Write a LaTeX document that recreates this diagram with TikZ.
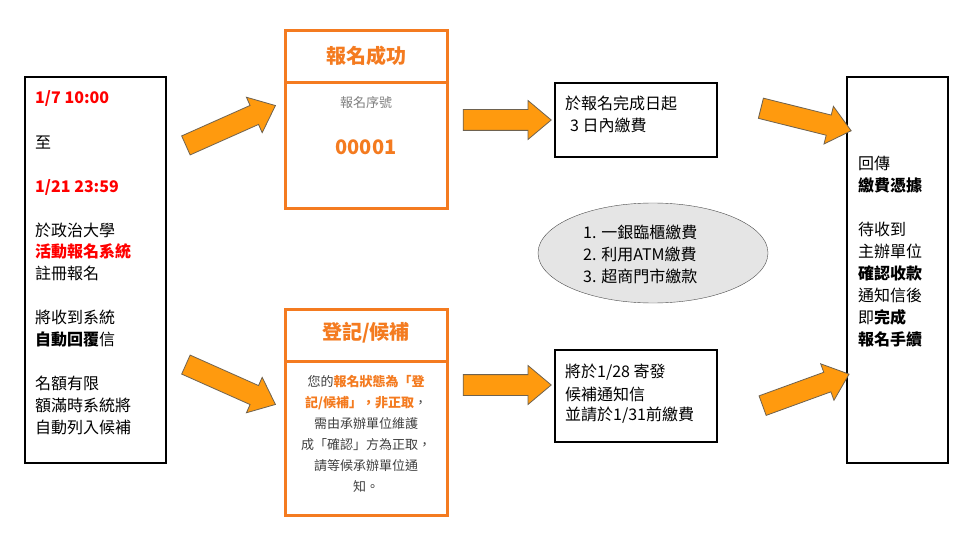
\documentclass[tikz,border=0pt]{standalone}
\usepackage{fontspec}
\setmainfont{Noto Sans CJK TC}
\usetikzlibrary{shapes.geometric,shapes.arrows}
\definecolor{orng}{HTML}{FF9A0E}
\definecolor{ordk}{HTML}{6E6250}
\definecolor{frame}{HTML}{F47B20}
\definecolor{redtx}{HTML}{FF0000}
\tikzset{
  blk/.style={draw=black,line width=1.5pt},
  obox/.style={draw=frame,line width=3pt},
  txt/.style={anchor=west,inner sep=0pt,font=\fontsize{16}{20}\selectfont},
  red/.style={text=redtx,font=\fontsize{16}{20}\selectfont\bfseries},
  fat/.style={single arrow,fill=orng,draw=ordk,line width=0.8pt,inner sep=10pt,
    single arrow head extend=9pt,single arrow tip angle=80}
}
\begin{document}
\begin{tikzpicture}[x=1pt,y=-1pt]
\fill[white] (0,0) rectangle (960,540);

% left box
\draw[blk] (25,77) rectangle (166,463);
\node[txt,red] (d1) at (35,98) {1/7 10:00};
\node[txt] (d2) at (35,143) {至};
\node[txt,red] (d3) at (35,187) {1/21 23:59};
\node[txt] (l1) at (35,230) {於政治大學};
\node[txt,red] (l2) at (35,251) {活動報名系統};
\node[txt] (l3) at (35,273) {註冊報名};
\node[txt] (l4) at (35,317) {將收到系統};
\node[txt] (l5) at (35,339) {\textbf{自動回覆}信};
\node[txt] (l6) at (35,383) {名額有限};
\node[txt] (l7) at (35,405) {額滿時系統將};
\node[txt] (l8) at (35,427) {自動列入候補};

% top orange box
\draw[obox] (285,31) rectangle (447,208);
\draw[obox] (285,83) -- (447,83);
\node[text=frame,font=\fontsize{20}{24}\selectfont\bfseries] (ok) at (366,56) {報名成功};
\node[text=gray,font=\fontsize{13}{16}\selectfont] (sn) at (366,103) {報名序號};
\node[text=frame,font=\fontsize{20}{24}\selectfont\bfseries] (num) at (366,147) {00001};

% bottom orange box
\draw[obox] (285,309) rectangle (447,515);
\draw[obox] (285,361) -- (447,361);
\node[text=frame,font=\fontsize{20}{24}\selectfont\bfseries] (wait) at (366,333) {登記/候補};
\node[align=center,font=\fontsize{13}{21}\selectfont,text=black!75] (note) at (366,434)
  {您的\textcolor{frame}{\bfseries 報名狀態為「登}\\
   \textcolor{frame}{\bfseries 記/候補」，非正取}，\\
   需由承辦單位維護\\成「確認」方為正取，\\請等候承辦單位通\\知。};

% middle boxes
\draw[blk] (555,83) rectangle (717,157);
\node[txt] (p1) at (565,103) {於報名完成日起};
\node[txt] (p2) at (570,125) {3 日內繳費};
\draw[blk] (555,350) rectangle (717,442);
\node[txt] (q1) at (565,372) {將於1/28 寄發};
\node[txt] (q2) at (565,394) {候補通知信};
\node[txt] (q3) at (565,415) {並請於1/31前繳費};

% payment ellipse
\node[ellipse,draw=black!70,fill=black!10,minimum width=230pt,minimum height=100pt] (pay) at (653,253) {};
\node[txt] (m1) at (583,232) {1. 一銀臨櫃繳費};
\node[txt] (m2) at (583,254) {2. 利用ATM繳費};
\node[txt] (m3) at (583,276) {3. 超商門市繳款};

% right box
\draw[blk] (847,77) rectangle (948,463);
\node[txt] (r1) at (858,163) {回傳};
\node[txt] (r2) at (858,185) {\textbf{繳費憑據}};
\node[txt] (r3) at (858,229) {待收到};
\node[txt] (r4) at (858,251) {主辦單位};
\node[txt] (r5) at (858,273) {\textbf{確認收款}};
\node[txt] (r6) at (858,295) {通知信後};
\node[txt] (r7) at (858,317) {即\textbf{完成}};
\node[txt] (r8) at (858,339) {\textbf{報名手續}};

% block arrows
\node[fat,minimum height=98pt,rotate=24] (a1) at (225,128) {};
\node[fat,minimum height=98pt,rotate=-24] (a2) at (225,382) {};
\node[fat,minimum height=88pt] (a3) at (501,120) {};
\node[fat,minimum height=88pt] (a4) at (501,385) {};
\node[fat,minimum height=93pt,rotate=-14] (a5) at (800,118) {};
\node[fat,minimum height=92pt,rotate=20] (a6) at (800,392) {};
\end{tikzpicture}
\end{document}
